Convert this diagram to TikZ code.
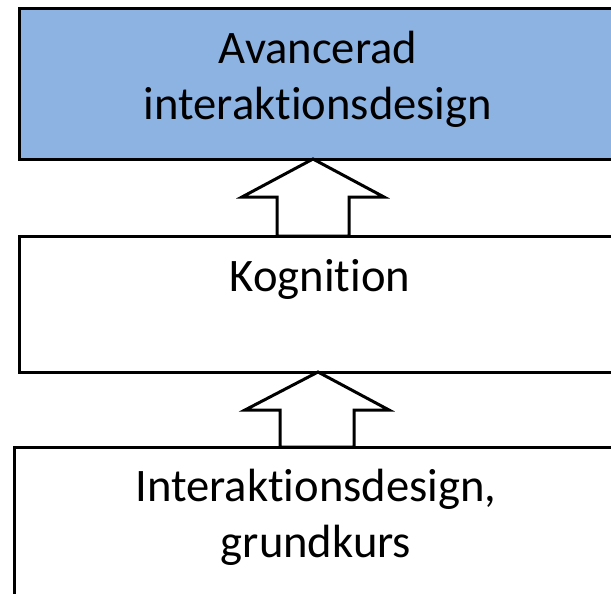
\documentclass[tikz,border=0pt]{standalone}
\usepackage{fontspec}
\setmainfont[Ligatures={NoCommon}]{Carlito}
\definecolor{boxblue}{RGB}{141,179,226}
\tikzset{
  course/.style={draw=black, line width=3pt, minimum width=598pt, inner sep=0pt, outer sep=0pt},
  coursetext/.style={align=center, anchor=base, inner sep=0pt, font=\fontsize{46.6}{55.5}\selectfont},
  blockarrow/.style={draw=black, line width=3pt, fill=white, line join=miter}
}
\begin{document}
\begin{tikzpicture}[x=1pt, y=-1pt]
  \useasboundingbox (0,0) rectangle (611,594);
  \clip (0,0) rectangle (611,594);

  % Draw course boxes
  \node[course, fill=boxblue, minimum height=150pt] (avancerad) at (318,84) {};
  \node[course, minimum height=136pt] (kognition) at (318,304) {};
  \node[course, minimum width=604pt, minimum height=200pt] (grundkurs) at (316,547) {};

  % Draw course names
  \node[coursetext] (avanceradtext) at ([yshift=-110pt]avancerad.north) {Avancerad\\interaktionsdesign};
  \node[coursetext] (kognitiontext) at ([xshift=2pt, yshift=-55pt]kognition.north) {Kognition};
  \node[coursetext] (grundkurstext) at ([yshift=-110pt]grundkurs.north) {Interaktionsdesign,\\grundkurs};

  % Draw block arrows
  \coordinate (foot1) at ([xshift=-5pt]kognition.north);
  \coordinate (tip1) at ([xshift=-5pt]avancerad.south);
  \draw[blockarrow] (foot1) ++(-36,0) -- ++(0,-39) -- ++(-35,0) -- (tip1) -- ++(71,38) -- ++(-35,0) -- ++(0,39) -- cycle;
  \coordinate (foot2) at (grundkurs.north);
  \coordinate (tip2) at (kognition.south);
  \draw[blockarrow] (foot2) ++(-36,0) -- ++(0,-37) -- ++(-35,0) -- (tip2) -- ++(71,38) -- ++(-35,0) -- ++(0,37) -- cycle;
\end{tikzpicture}
\end{document}
